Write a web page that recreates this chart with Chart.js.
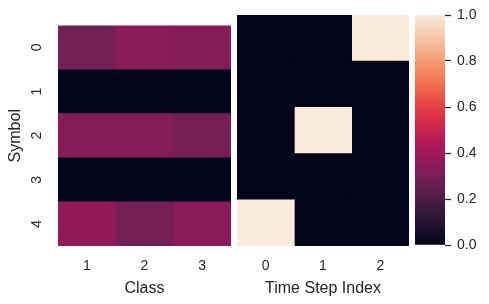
<!DOCTYPE html>
<html>
<head>
<meta charset="utf-8">
<script src="https://cdn.jsdelivr.net/npm/chart.js@4"></script>
<style>
  html, body { margin: 0; padding: 0; background: #ffffff; }
  #wrap { position: relative; width: 489px; height: 304px; overflow: hidden; }
  canvas { position: absolute; top: 0; }
</style>
</head>
<body>
<div id="wrap">
  <canvas id="classChart" width="233" height="304" style="left:0px"></canvas>
  <canvas id="stepChart" width="174" height="304" style="left:235px"></canvas>
  <canvas id="barChart" width="76" height="304" style="left:413px"></canvas>
</div>
<script>
// row / column labels
const symbolLabels = ['0', '1', '2', '3', '4'];
const classLabels = ['1', '2', '3'];
const timeStepLabels = ['0', '1', '2'];

// cell values, one row per symbol
const classProbs = [
  [0.29, 0.35, 0.335],
  [0.0, 0.0, 0.0],
  [0.335, 0.335, 0.30],
  [0.0, 0.0, 0.0],
  [0.36, 0.30, 0.35]
];
const timeStepValues = [
  [0, 0, 1],
  [0, 0, 0],
  [0, 1, 0],
  [0, 0, 0],
  [1, 0, 0]
];

// colorbar ticks
const colorbarTicks = [0, 0.2, 0.4, 0.6, 0.8, 1.0];

// seaborn "rocket" colormap, sampled
const rocketStops = [0, 1 / 7, 2 / 7, 3 / 7, 4 / 7, 5 / 7, 6 / 7, 1];
const rocketColors = [
  [3, 5, 26], [53, 25, 62], [112, 31, 87], [173, 23, 89],
  [225, 51, 66], [243, 118, 81], [246, 180, 143], [250, 235, 221]
];

function rocket(v) {
  v = Math.max(0, Math.min(1, v));
  let i = 0;
  while (i < rocketStops.length - 2 && v > rocketStops[i + 1]) i++;
  const t = (v - rocketStops[i]) / (rocketStops[i + 1] - rocketStops[i]);
  const a = rocketColors[i], b = rocketColors[i + 1];
  const c = a.map((x, k) => Math.round(x + (b[k] - x) * t));
  return `rgb(${c[0]},${c[1]},${c[2]})`;
}

const textColor = '#262626';
const fontFamily = "'Liberation Sans', Arial, sans-serif";

// heatmap = stacked horizontal bars, one dataset per column
function makeHeatmap(canvasId, rows, colLabels, xTitle, showY) {
  const ctx = document.getElementById(canvasId).getContext('2d');
  return new Chart(ctx, {
    type: 'bar',
    data: {
      labels: symbolLabels,
      datasets: colLabels.map((c, j) => ({
        label: c,
        data: rows.map(() => 1),
        backgroundColor: rows.map(r => rocket(r[j])),
        borderWidth: 0,
        barPercentage: 1,
        categoryPercentage: 1
      }))
    },
    options: {
      indexAxis: 'y',
      responsive: false,
      animation: false,
      layout: { padding: { top: 15, right: showY ? 2 : 0, left: showY ? 0 : 2 } },
      plugins: { legend: { display: false }, tooltip: { enabled: false } },
      scales: {
        x: {
          type: 'linear',
          stacked: true,
          min: 0,
          max: colLabels.length,
          grid: { display: false, drawTicks: false },
          border: { display: false },
          afterBuildTicks: s => { s.ticks = colLabels.map((_, i) => ({ value: i + 0.5 })); },
          ticks: {
            callback: (v, i) => colLabels[i],
            color: textColor,
            font: { family: fontFamily, size: 14 },
            padding: 12,
            maxRotation: 0
          },
          title: {
            display: true,
            text: xTitle,
            color: textColor,
            font: { family: fontFamily, size: 16 },
            padding: { top: 0, bottom: 6 }
          },
          afterFit: s => { s.height = 58; }
        },
        y: {
          display: showY,
          stacked: true,
          grid: { display: false, drawTicks: false },
          border: { display: false },
          ticks: {
            color: textColor,
            font: { family: fontFamily, size: 14 },
            minRotation: 90,
            maxRotation: 90,
            crossAlign: 'center',
            padding: 17
          },
          title: {
            display: true,
            text: 'Symbol',
            color: textColor,
            font: { family: fontFamily, size: 16 },
            padding: { top: 6, bottom: 0 }
          },
          afterFit: s => { s.width = showY ? 58 : 0; }
        }
      }
    }
  });
}

makeHeatmap('classChart', classProbs, classLabels, 'Class', true);
makeHeatmap('stepChart', timeStepValues, timeStepLabels, 'Time Step Index', false);

// colorbar
function colorbarFill(context) {
  const { chart } = context;
  const area = chart.chartArea;
  if (!area) return rocket(0.5);
  const g = chart.ctx.createLinearGradient(0, area.bottom, 0, area.top);
  for (let k = 0; k <= 20; k++) g.addColorStop(k / 20, rocket(k / 20));
  return g;
}

new Chart(document.getElementById('barChart').getContext('2d'), {
  type: 'bar',
  data: {
    labels: [''],
    datasets: [{
      data: [1],
      backgroundColor: colorbarFill,
      borderWidth: 0,
      barPercentage: 1,
      categoryPercentage: 1
    }]
  },
  options: {
    responsive: false,
    animation: false,
    layout: { padding: { top: 15, bottom: 59, left: 2, right: 0 } },
    plugins: { legend: { display: false }, tooltip: { enabled: false } },
    scales: {
      x: { display: false },
      y: {
        position: 'right',
        min: 0,
        max: 1,
        afterBuildTicks: s => { s.ticks = colorbarTicks.map(v => ({ value: v })); },
        grid: { drawOnChartArea: false, drawTicks: true, tickLength: 6, tickColor: textColor, tickWidth: 1.25 },
        border: { display: false },
        ticks: {
          callback: v => Number(v).toFixed(1),
          color: textColor,
          font: { family: fontFamily, size: 14 },
          padding: 6
        },
        afterFit: s => { s.width = 44; }
      }
    }
  }
});
</script>
</body>
</html>
